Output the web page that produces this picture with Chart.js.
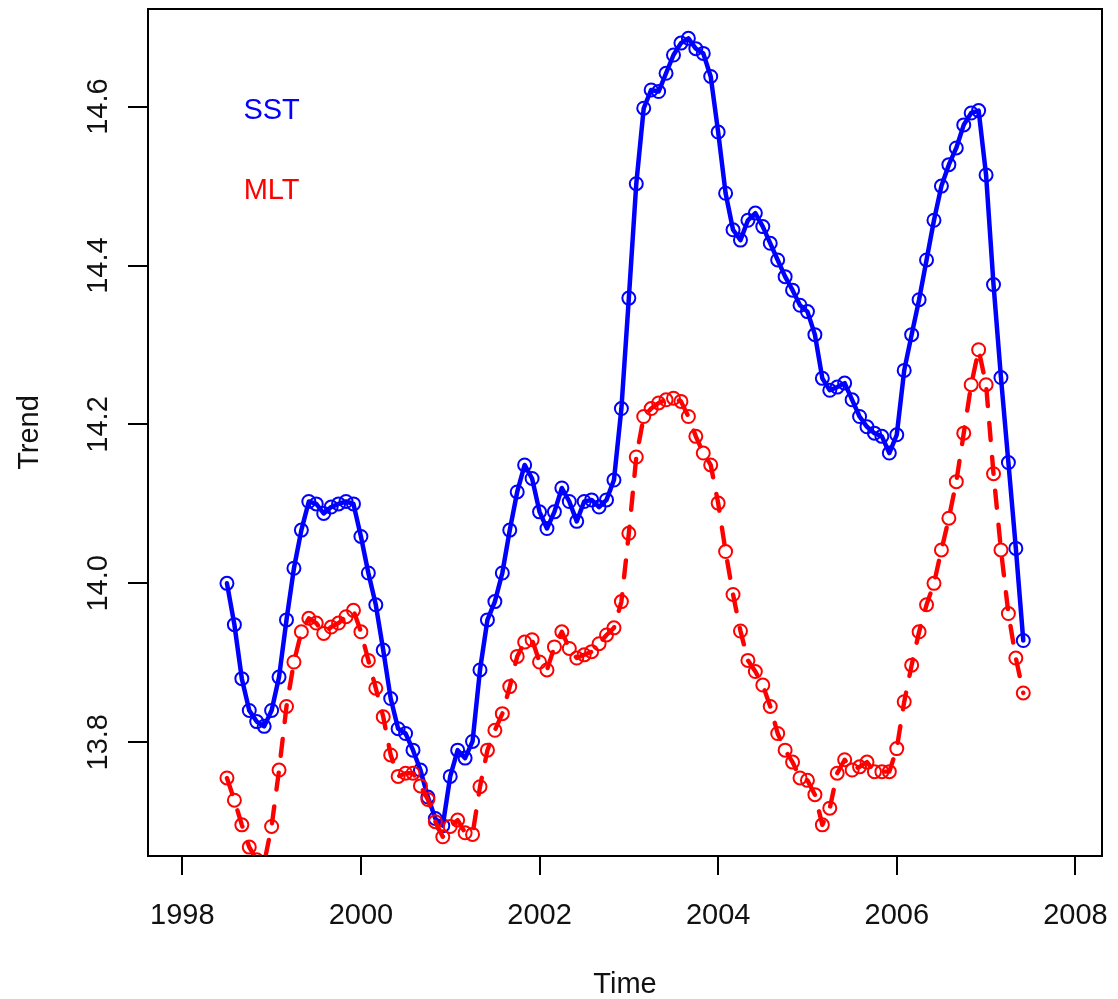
<!DOCTYPE html>
<html>
<head>
<meta charset="utf-8">
<title>Trend</title>
<script src="https://cdn.jsdelivr.net/npm/chart.js@4.4.1/dist/chart.umd.min.js"></script>
<style>
  html, body { margin: 0; padding: 0; background: #ffffff; }
  #wrap { width: 1118px; height: 999px; }
</style>
</head>
<body>
<div id="wrap"><canvas id="chart" width="1118" height="999"></canvas></div>
<script>
// Monthly trend values, July 1998 to June 2007
const startTime = 1998.5;
const sst = [
  14.000, 13.948, 13.880, 13.840, 13.826, 13.820, 13.840, 13.882, 13.954, 14.019,
  14.067, 14.103, 14.100, 14.088, 14.096, 14.100, 14.103, 14.100, 14.059, 14.013,
  13.973, 13.916, 13.855, 13.817, 13.811, 13.790, 13.765, 13.731, 13.704, 13.695,
  13.757, 13.790, 13.780, 13.801, 13.891, 13.954, 13.977, 14.013, 14.067, 14.115,
  14.149, 14.132, 14.090, 14.069, 14.090, 14.120, 14.103, 14.078, 14.103, 14.105,
  14.096, 14.105, 14.130, 14.220, 14.359, 14.503, 14.598, 14.621, 14.619, 14.642,
  14.665, 14.680, 14.686, 14.673, 14.667, 14.638, 14.568, 14.491, 14.445, 14.432,
  14.457, 14.466, 14.449, 14.428, 14.407, 14.386, 14.369, 14.350, 14.342, 14.313,
  14.258, 14.243, 14.247, 14.252, 14.231, 14.210, 14.197, 14.189, 14.185, 14.164,
  14.187, 14.268, 14.313, 14.357, 14.407, 14.457, 14.500, 14.527, 14.548, 14.577,
  14.592, 14.595, 14.514, 14.376, 14.259, 14.152, 14.044, 13.928
];
const mlt = [
  13.755, 13.727, 13.696, 13.668, 13.652, 13.648, 13.694, 13.765, 13.845, 13.901,
  13.939, 13.956, 13.950, 13.937, 13.945, 13.950, 13.958, 13.966, 13.939, 13.903,
  13.868, 13.832, 13.784, 13.757, 13.761, 13.761, 13.745, 13.728, 13.700, 13.681,
  13.694, 13.702, 13.686, 13.684, 13.744, 13.790, 13.815, 13.836, 13.870, 13.908,
  13.926, 13.929, 13.901, 13.891, 13.920, 13.939, 13.918, 13.906, 13.910, 13.914,
  13.924, 13.935, 13.944, 13.977, 14.063, 14.159, 14.210, 14.220, 14.227, 14.231,
  14.233, 14.229, 14.210, 14.185, 14.164, 14.149, 14.101, 14.040, 13.986, 13.940,
  13.903, 13.889, 13.872, 13.845, 13.811, 13.790, 13.775, 13.755, 13.752, 13.734,
  13.696, 13.717, 13.761, 13.778, 13.765, 13.769, 13.775, 13.763, 13.763, 13.763,
  13.792, 13.851, 13.897, 13.939, 13.973, 14.000, 14.042, 14.082, 14.128, 14.189,
  14.250, 14.294, 14.250, 14.138, 14.042, 13.962, 13.906, 13.862
];
const xTicks = [1998, 2000, 2002, 2004, 2006, 2008];
const yTicks = [13.8, 14.0, 14.2, 14.4, 14.6];

// in-plot labels, placed in data units
const notes = [
  { text: 'SST', x: 1999, y: 14.6, color: '#0000ff' },
  { text: 'MLT', x: 1999, y: 14.5, color: '#ff0000' }
];

const FONT = "'Liberation Sans', Arial, sans-serif";
const INK = '#111111';

function toPoints(values) {
  return values.map((v, i) => ({ x: startTime + i / 12, y: v }));
}

// box round the plot region, y tick labels turned on their side, text notes
const extras = {
  id: 'extras',
  afterDraw(chart) {
    const { ctx, chartArea: a, scales } = chart;
    ctx.save();
    ctx.strokeStyle = '#000';
    ctx.lineWidth = 2;
    ctx.strokeRect(a.left, a.top, a.right - a.left, a.bottom - a.top);

    ctx.fillStyle = INK;
    ctx.font = '29px ' + FONT;
    ctx.textAlign = 'center';
    ctx.textBaseline = 'middle';
    scales.y.ticks.forEach(t => {
      const py = scales.y.getPixelForValue(t.value);
      ctx.save();
      ctx.translate(99, py);
      ctx.rotate(-Math.PI / 2);
      ctx.fillText(t.value.toFixed(1), 0, 0);
      ctx.restore();
    });

    ctx.textBaseline = 'alphabetic';
    notes.forEach(n => {
      ctx.fillStyle = n.color;
      ctx.fillText(n.text, scales.x.getPixelForValue(n.x), scales.y.getPixelForValue(n.y) + 12.5);
    });
    ctx.restore();
  }
};

const ctx = document.getElementById('chart').getContext('2d');
new Chart(ctx, {
  type: 'line',
  data: {
    datasets: [
      {
        label: 'SST',
        data: toPoints(sst),
        order: 1,
        borderColor: '#0000ff',
        borderWidth: 4.5,
        borderCapStyle: 'round',
        borderJoinStyle: 'round',
        pointRadius: 6.5,
        pointBorderWidth: 2,
        pointBorderColor: '#0000ff',
        pointBackgroundColor: 'rgba(0,0,0,0)',
        tension: 0,
        clip: 0
      },
      {
        label: 'MLT',
        data: toPoints(mlt),
        order: 0,
        borderColor: '#ff0000',
        borderWidth: 4.4,
        borderDash: [17, 17],
        borderCapStyle: 'round',
        borderJoinStyle: 'round',
        pointRadius: 6.5,
        pointBorderWidth: 2,
        pointBorderColor: '#ff0000',
        pointBackgroundColor: 'rgba(0,0,0,0)',
        tension: 0,
        clip: 0
      }
    ]
  },
  options: {
    responsive: false,
    animation: false,
    events: [],
    layout: { padding: { top: 9, right: 16, bottom: 0, left: 0 } },
    plugins: {
      legend: { display: false },
      tooltip: { enabled: false }
    },
    scales: {
      x: {
        type: 'linear',
        min: 1997.616,
        max: 2008.298,
        afterBuildTicks: s => { s.ticks = xTicks.map(v => ({ value: v })); },
        afterFit: s => {
          s.height = 143;
          s.paddingLeft = 0;
          s.paddingRight = 0;
        },
        border: { display: false },
        grid: { drawOnChartArea: false, drawTicks: true, tickLength: 19, lineWidth: 2, color: '#000' },
        ticks: {
          color: INK,
          font: { family: FONT, size: 29 },
          padding: 24,
          maxRotation: 0,
          autoSkip: false,
          callback: v => String(v)
        },
        title: {
          display: true,
          text: 'Time',
          color: INK,
          font: { family: FONT, size: 29, lineHeight: 1 },
          padding: { top: 0, bottom: 0 }
        }
      },
      y: {
        type: 'linear',
        min: 13.6568,
        max: 14.7229,
        afterBuildTicks: s => { s.ticks = yTicks.map(v => ({ value: v })); },
        afterFit: s => {
          s.width = 148;
          s.paddingTop = 0;
          s.paddingBottom = 0;
        },
        border: { display: false },
        grid: { drawOnChartArea: false, drawTicks: true, tickLength: 20, lineWidth: 2, color: '#000' },
        ticks: { display: false },
        title: {
          display: true,
          text: 'Trend',
          color: INK,
          font: { family: FONT, size: 29, lineHeight: 1 },
          padding: { top: 15, bottom: 0 }
        }
      }
    }
  },
  plugins: [extras]
});
</script>
</body>
</html>
